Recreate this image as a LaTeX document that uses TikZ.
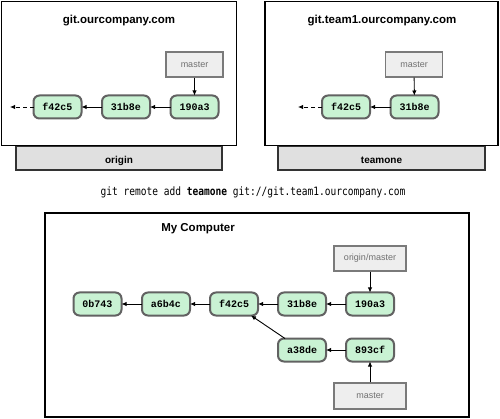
\documentclass[tikz,border=0pt]{standalone}
\usepackage{fontspec}
\setmainfont{Liberation Sans}
\setmonofont{Liberation Mono}
\newfontfamily\cmdfont[FakeStretch=0.83]{DejaVu Sans Mono}
\usetikzlibrary{arrows.meta}
\definecolor{commitfill}{HTML}{C9F2D3}
\definecolor{commitdraw}{HTML}{626262}
\definecolor{reffill}{HTML}{EEEEEE}
\definecolor{refdraw}{HTML}{7A7A7A}
\definecolor{reftext}{HTML}{707070}
\definecolor{tabfill}{HTML}{E0E0E0}
\tikzset{
  commit/.style={draw=commitdraw, fill=commitfill, line width=2pt, rounded corners=6pt,
    minimum width=48pt, minimum height=23pt, inner sep=0pt, outer sep=0pt,
    font=\ttfamily\bfseries\fontsize{10}{12}\selectfont},
  refbox/.style={draw=refdraw, fill=reffill, line width=1.2pt, minimum height=25pt,
    inner sep=0pt, text=reftext, font=\fontsize{9}{11}\selectfont},
  server/.style={draw=black, fill=white, line width=1.3pt, inner sep=0pt},
  tabbox/.style={draw=black!80, fill=tabfill, line width=1.1pt, inner sep=0pt,
    font=\bfseries\fontsize{10}{12}\selectfont},
  title/.style={font=\bfseries\fontsize{11.5}{13}\selectfont, inner sep=0pt},
  link/.style={-{Latex[length=5pt,width=4.5pt]}, line width=0.9pt, black},
  dashlink/.style={link, dash pattern=on 4pt off 3pt},
}
\begin{document}
\begin{tikzpicture}[x=1pt,y=-1pt]
\useasboundingbox (0,0) rectangle (500,419);
% --- origin server
\node[tabbox, minimum width=206pt, minimum height=24pt] (tab1) at (119,158) {};
\node[server, minimum width=235pt, minimum height=144pt] (box1) at (119,73.5) {};
\node[tabbox, draw=none, fill=none] (tab1label) at (119,160.5) {origin};
\node[title] (t1) at (119,21) {git.ourcompany.com};
\node[refbox, minimum width=57pt] (m1) at (194.5,64.5) {master};
\node[commit] (a1) at (57.5,107) {f42c5};
\node[commit] (b1) at (126,107) {31b8e};
\node[commit] (c1) at (194.5,107) {190a3};
\coordinate (d1) at (10,107);
\draw[link] (m1) -- (c1);
\draw[link] (c1) -- (b1);
\draw[link] (b1) -- (a1);
\draw[dashlink] (a1) -- (d1);
% --- teamone server
\node[tabbox, minimum width=207pt, minimum height=24pt] (tab2) at (381.5,158) {};
\node[server, minimum width=233pt, minimum height=144pt] (box2) at (381.5,73.5) {};
\node[tabbox, draw=none, fill=none] (tab2label) at (381.5,160.5) {teamone};
\node[title] (t2) at (382,21) {git.team1.ourcompany.com};
\node[refbox, minimum width=57pt] (m2) at (414,64.5) {master};
\node[commit] (a2) at (346,107) {f42c5};
\node[commit] (b2) at (414.5,107) {31b8e};
\coordinate (d2) at (298,107);
\draw[link] (m2) -- (b2);
\draw[link] (b2) -- (a2);
\draw[dashlink] (a2) -- (d2);
% --- command
\node[inner sep=0pt, font=\cmdfont\fontsize{11.5}{13}\selectfont] (cmd) at (253,192)
  {git remote add \textbf{teamone} git://git.team1.ourcompany.com};
% --- my computer
\node[server, minimum width=424pt, minimum height=204pt] (box3) at (257,315) {};
\node[title] (t3) at (198,229) {My Computer};
\node[refbox, minimum width=72pt] (om) at (370,258.5) {origin/master};
\node[commit] (k1) at (97.5,304) {0b743};
\node[commit] (k2) at (166,304) {a6b4c};
\node[commit] (k3) at (234,304) {f42c5};
\node[commit] (k4) at (302,304) {31b8e};
\node[commit] (k5) at (370,304) {190a3};
\node[commit] (k6) at (302,350) {a38de};
\node[commit] (k7) at (370,350) {893cf};
\node[refbox, minimum width=72pt, minimum height=26pt] (m3) at (370,396) {master};
\draw[link] (om) -- (k5);
\draw[link] (k5) -- (k4);
\draw[link] (k4) -- (k3);
\draw[link] (k3) -- (k2);
\draw[link] (k2) -- (k1);
\draw[link] (k7) -- (k6);
\draw[link] (k6) -- (k3);
\draw[link] (m3) -- (k7);
\end{tikzpicture}
\end{document}
